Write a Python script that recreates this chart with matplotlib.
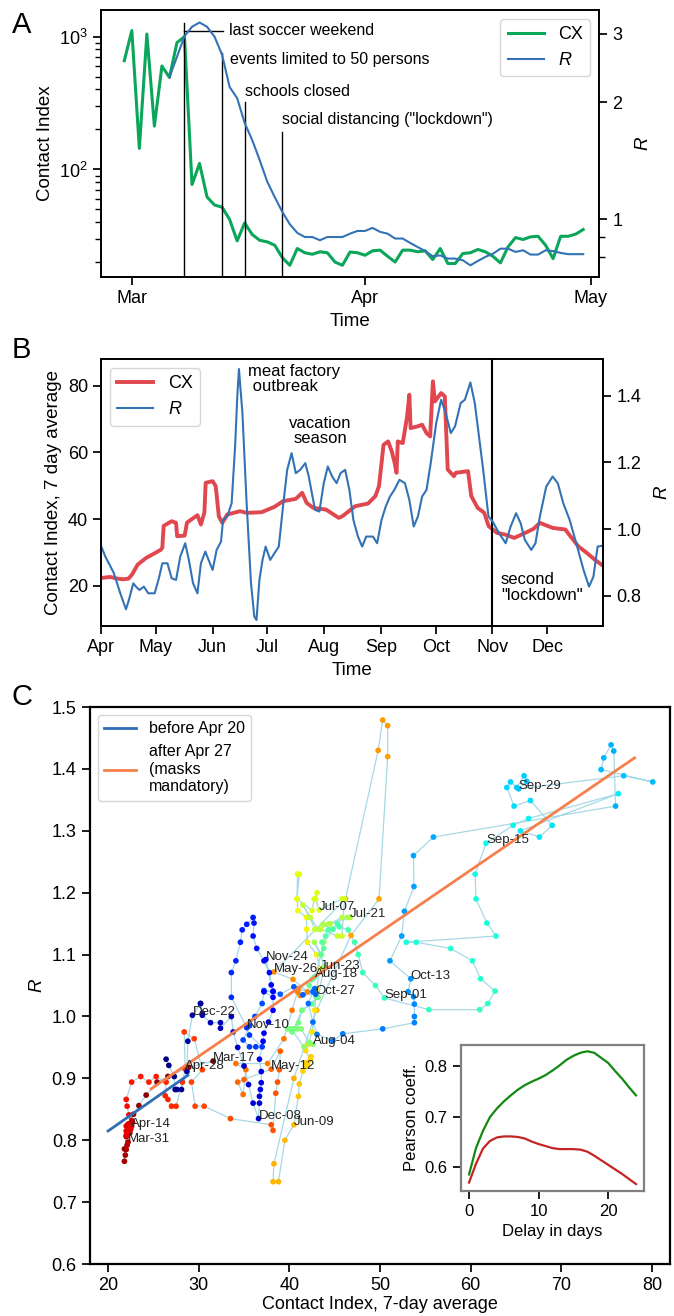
import numpy as np
import matplotlib.pyplot as plt
import matplotlib.dates as mdates
from matplotlib.ticker import NullFormatter, FixedLocator
from datetime import datetime, timedelta

plt.rcParams['font.family'] = ['Liberation Sans', 'DejaVu Sans']
plt.rcParams['mathtext.fontset'] = 'custom'
plt.rcParams['mathtext.rm'] = 'Liberation Sans'
plt.rcParams['mathtext.it'] = 'Liberation Sans:italic'
plt.rcParams['font.size'] = 12
plt.rcParams['axes.linewidth'] = 1.25
for ax_ in ('xtick', 'ytick'):
    plt.rcParams[ax_ + '.major.size'] = 6
    plt.rcParams[ax_ + '.major.width'] = 1.25
    plt.rcParams[ax_ + '.minor.size'] = 4
    plt.rcParams[ax_ + '.minor.width'] = 1
    plt.rcParams[ax_ + '.labelsize'] = 13

GREEN = '#0aa65a'
BLUE = '#3373b5'
RED = '#e0474f'

# ---- panel A: daily contact index (from Feb 29) and R (from Mar 6)
a_cx = [659, 1110, 144, 1047, 212, 601, 493, 901, 1000, 77, 111, 62, 54, 52, 42, 29,
        39.6, 32.4, 29.3, 28.5, 26.9, 21.7, 19.0, 25.4, 23.6, 23.0, 24.0, 23.6, 20.1,
        19.0, 23.9, 23.6, 22.6, 24.4, 24.7, 22.2, 20.1, 24.7, 24.7, 24.0, 24.4, 21.0,
        25.4, 19.6, 19.6, 23.3, 23.6, 25.0, 24.0, 22.2, 19.8, 26.1, 30.7, 29.7, 31.1,
        31.4, 26.9, 21.3, 31.4, 31.4, 32.6, 35.3]
a_r = [2.32, 2.62, 2.96, 3.13, 3.21, 3.13, 2.95, 2.65, 2.19, 2.05, 1.77, 1.60, 1.42,
       1.25, 1.14, 1.045, 0.971, 0.922, 0.90, 0.90, 0.883, 0.90, 0.90, 0.90, 0.918,
       0.933, 0.933, 0.95, 0.928, 0.918, 0.892, 0.892, 0.869, 0.848, 0.828, 0.803,
       0.807, 0.792, 0.792, 0.784, 0.761, 0.781, 0.80, 0.815, 0.84, 0.84, 0.824, 0.832,
       0.811, 0.811, 0.832, 0.828, 0.819, 0.813, 0.813, 0.813]
a_events = ['last soccer weekend', 'events limited to 50 persons', 'schools closed',
            'social distancing ("lockdown")']
a_event_dates = [datetime(2020, 3, 8), datetime(2020, 3, 13), datetime(2020, 3, 16),
                 datetime(2020, 3, 21)]

# ---- panel B: 7 day average contact index and R, days after Apr 1
b_cx_day = [0, 5, 9, 12, 15, 17, 20, 24.6, 29, 32.8, 33.5, 34.2, 38.6, 41, 41.6, 45.7,
            47, 52.7, 54.6, 56.5, 57.2, 61, 62.7, 64.4, 66.3, 69, 76, 79.6, 87.8, 94.8,
            99.5, 106.5, 110, 112.4, 116, 123, 130, 132, 139, 146, 150, 152, 153.4,
            154.5, 157, 159, 160.6, 161.6, 162.3, 165, 167.4, 168.6, 169.3, 173, 175.6,
            178, 180, 181.5, 182.6, 186, 188, 189.6, 193, 194, 200.7, 202.5, 206,
            209.6, 212, 216.6, 221, 226, 232, 236.5, 240, 247, 254, 256, 261, 265.7,
            270, 273.7]
b_cx = [22.4, 22.7, 22.2, 22.0, 22.2, 23.5, 26.4, 28.4, 29.7, 30.9, 31.5, 38.0, 39.4,
        38.9, 34.9, 35.1, 39.0, 41.2, 38.4, 42.0, 50.9, 51.4, 49.9, 40.9, 38.9, 41.4,
        42.4, 41.9, 42.1, 43.7, 45.4, 46.1, 47.9, 44.9, 43.4, 42.9, 40.4, 40.9, 43.9,
        44.7, 46.9, 49.9, 56.8, 62.3, 63.3, 60.3, 56.8, 53.9, 63.3, 62.8, 70.8, 77.3,
        67.3, 67.8, 68.3, 65.8, 64.8, 81.3, 75.3, 77.8, 76.8, 54.9, 52.9, 53.9, 54.4,
        46.9, 43.4, 41.9, 37.9, 35.9, 35.4, 34.4, 35.9, 37.1, 38.9, 37.4, 36.9, 35.4,
        31.9, 29.9, 27.9, 26.4]
b_r_day = [0, 2.3, 4.7, 7, 10.5, 13.6, 15.2, 17.6, 19.4, 21, 23.4, 25.8, 29.3, 31.6,
           33.5, 36.3, 38.6, 41, 43.3, 46, 48, 50.3, 52.7, 54.6, 57, 58.8, 61, 63.2,
           65.6, 66.7, 69, 71.4, 73.3, 74.5, 75.4, 77.3, 79.6, 82, 83.8, 85, 86.6, 88.3,
           90, 92.5, 94.8, 97.2, 99.5, 101.8, 104.2, 106.5, 108.9, 111.7, 113.6, 117,
           119.4, 121.8, 124, 126.4, 128.8, 131, 133.5, 135.8, 138, 140.5, 142.8, 145,
           148.7, 151, 153.4, 155.7, 158, 160.4, 163.2, 166.2, 168.6, 171, 173.3, 175.6,
           178, 180.3, 183.3, 186, 188.5, 191.3, 193.6, 196.7, 199, 202, 204.4, 206.7,
           209, 211.9, 214.2, 217.7, 221.3, 224, 227, 229.5, 231.8, 235.3, 237.6, 240,
           243.5, 247, 249.8, 252.8, 256.3, 259.9, 263.9, 266.9, 269.3, 271.6, 273.7]
b_r = [0.95, 0.918, 0.893, 0.868, 0.808, 0.76, 0.788, 0.838, 0.826, 0.818, 0.828, 0.808,
       0.808, 0.853, 0.898, 0.898, 0.853, 0.848, 0.918, 0.958, 0.908, 0.838, 0.808,
       0.898, 0.933, 0.908, 0.878, 0.938, 0.963, 1.028, 1.038, 1.078, 1.248, 1.398,
       1.48, 1.348, 1.078, 0.838, 0.738, 0.728, 0.848, 0.908, 0.948, 0.908, 0.928,
       0.948, 1.068, 1.178, 1.228, 1.168, 1.178, 1.198, 1.158, 1.058, 1.053, 1.138,
       1.188, 1.158, 1.138, 1.168, 1.178, 1.118, 1.028, 0.978, 0.948, 0.978, 0.978,
       0.958, 1.028, 1.068, 1.098, 1.118, 1.148, 1.138, 1.088, 1.008, 1.038, 1.098,
       1.118, 1.198, 1.318, 1.388, 1.348, 1.288, 1.308, 1.378, 1.388, 1.44, 1.378,
       1.278, 1.178, 1.038, 1.023, 0.988, 0.958, 1.008, 1.048, 1.018, 0.968, 0.938,
       0.958, 1.038, 1.128, 1.158, 1.138, 1.078, 1.028, 0.958, 0.878, 0.828, 0.858,
       0.948, 0.95]

# ---- panel C: daily trajectory from Mar 17 (CX 7-day average, delayed R)
c_cx = [31.6, 28.9, 26.6, 25.4, 24.2, 23.4, 22.8, 22.3, 22.0, 21.8, 21.8, 21.9, 22.0, 22.1,
        22.2, 22.4, 22.5, 22.6, 22.7, 22.6, 22.5, 22.4, 22.2, 22.0, 22.0, 22.0, 22.1, 22.2,
        22.5, 22.3, 22.1, 22.0, 22.6, 23.6, 24.5, 25.3, 26.4, 26.3, 26.6, 27.0, 27.5, 28.2,
        28.5, 28.4, 29.5, 30.4, 29.2, 29.6, 30.6, 33.5, 38.0, 38.2, 38.5, 38.7, 38.9, 39.0,
        38.0, 35.0, 34.3, 34.9, 35.2, 34.1, 37.6, 39.4, 40.3, 40.9, 41.2, 41.0, 42.0, 40.4,
        38.3, 46.2, 49.8, 50.3, 50.85, 50.85, 49.9, 46.8, 43.0, 40.5, 38.3, 38.2, 38.8, 39.5,
        40.5, 41.0, 41.1, 41.8, 42.4, 42.0, 41.5, 41.9, 42.3, 41.8, 42.1, 42.5, 42.8, 43.0,
        43.4, 43.0, 42.0, 41.9, 41.9, 40.95, 40.85, 40.9, 41.1, 40.85, 42.5, 42.75, 43.05, 42.9,
        43.3, 45.8, 46.1, 45.8, 45.3, 43.5, 42.8, 42.3, 41.5, 42.3, 43.2, 44.5, 45.8, 46.4,
        46.7, 44.3, 43.7, 44.8, 43.8, 43.5, 42.75, 43.5, 43.8, 43.2, 41.4, 40.5, 40.2, 41.6,
        42.6, 42.2, 41.3, 40.9, 40.5, 40.1, 39.8, 40.3, 41.0, 41.4, 42.5, 43.0, 42.2, 42.5,
        42.8, 43.5, 43.8, 43.6, 44.0, 44.3, 44.8, 45.3, 45.5, 46.5, 47.2, 47.6, 48.1, 49.5,
        50.5, 55.4, 61.0, 61.9, 62.7, 61.1, 60.2, 57.8, 54.0, 52.9, 62.8, 61.8, 60.6, 60.5,
        61.7, 64.7, 66.4, 76.3, 65.5, 67.6, 69.0, 66.6, 64.8, 64.0, 64.4, 65.1, 65.9, 66.2,
        65.3, 76.9, 80.1, 74.4, 74.7, 75.5, 75.8, 76.0, 55.9, 53.7, 53.75, 52.7, 52.4, 51.1,
        53.4, 53.1, 53.7, 53.8, 53.8, 53.8, 50.3, 45.9, 44.8, 43.05, 42.6, 42.1, 42.6, 42.8,
        42.9, 41.5, 40.5, 39.0, 38.2, 37.2, 37.0, 36.2, 35.6, 34.9, 35.6, 36.3, 37.0, 35.6,
        35.3, 33.6, 33.6, 34.1, 34.6, 34.8, 35.3, 36.0, 36.1, 36.0, 36.4, 37.2, 37.8, 38.0,
        37.4, 38.2, 37.2, 38.2, 38.2, 37.7, 37.2, 37.1, 36.7, 36.9, 36.9, 36.8, 36.7, 36.7,
        36.6, 36.0, 35.5, 35.0, 34.3, 33.8, 33.6, 32.4, 32.4, 31.3, 30.4, 30.2, 30.4, 30.2,
        29.3, 28.8, 28.7, 28.1, 27.6, 27.4, 27.3, 26.7, 26.4]
c_r = [0.928, 0.918, 0.903, 0.894, 0.873, 0.856, 0.842, 0.826, 0.806, 0.786, 0.766, 0.776, 0.785, 0.792,
       0.797, 0.812, 0.826, 0.832, 0.829, 0.823, 0.818, 0.822, 0.826, 0.823, 0.815, 0.808, 0.808, 0.812,
       0.821, 0.841, 0.855, 0.866, 0.894, 0.903, 0.894, 0.903, 0.894, 0.872, 0.866, 0.855, 0.855, 0.894,
       0.915, 0.975, 0.964, 0.914, 0.894, 0.855, 0.855, 0.835, 0.825, 0.816, 0.876, 0.894, 0.914, 0.944,
       0.915, 0.898, 0.894, 0.874, 0.914, 0.924, 0.924, 0.964, 1.010, 1.040, 1.034, 1.045, 1.040, 1.060,
       1.072, 1.190, 1.430, 1.479, 1.470, 1.420, 1.190, 1.131, 1.010, 0.900, 0.762, 0.733, 0.733, 0.800,
       0.825, 0.871, 0.891, 0.925, 0.935, 0.922, 0.912, 0.920, 0.930, 0.945, 0.955, 0.975, 1.010, 1.045,
       1.076, 1.100, 1.120, 1.141, 1.160, 1.171, 1.190, 1.230, 1.230, 1.190, 1.171, 1.190, 1.200, 1.190,
       1.172, 1.190, 1.190, 1.130, 1.130, 1.141, 1.141, 1.160, 1.180, 1.160, 1.141, 1.150, 1.160, 1.160,
       1.160, 1.149, 1.149, 1.141, 1.120, 1.100, 1.120, 1.100, 1.080, 1.031, 1.010, 0.980, 0.980, 0.951,
       0.955, 0.958, 0.980, 0.980, 0.980, 0.980, 0.980, 0.975, 0.990, 1.010, 1.020, 1.031, 1.050, 1.060,
       1.064, 1.100, 1.110, 1.120, 1.130, 1.140, 1.141, 1.150, 1.145, 1.140, 1.120, 1.100, 1.071, 1.050,
       1.030, 1.011, 1.011, 1.021, 1.041, 1.061, 1.090, 1.110, 1.120, 1.120, 1.130, 1.151, 1.190, 1.230,
       1.280, 1.309, 1.320, 1.360, 1.300, 1.290, 1.309, 1.349, 1.340, 1.370, 1.379, 1.370, 1.389, 1.380,
       1.368, 1.389, 1.379, 1.399, 1.418, 1.439, 1.429, 1.340, 1.290, 1.260, 1.210, 1.170, 1.130, 1.090,
       1.061, 1.040, 1.032, 1.020, 1.000, 0.990, 0.980, 0.972, 0.961, 0.971, 0.991, 1.021, 1.040, 1.045,
       1.036, 1.035, 1.048, 1.036, 1.040, 1.042, 1.021, 1.000, 0.985, 0.962, 0.951, 0.951, 0.951, 0.970,
       0.982, 1.031, 1.071, 1.090, 1.120, 1.140, 1.149, 1.160, 1.151, 1.130, 1.110, 1.090, 1.071, 1.051,
       1.092, 1.041, 1.040, 1.031, 1.010, 0.991, 0.973, 0.960, 0.931, 0.911, 0.893, 0.882, 0.871, 0.860,
       0.835, 0.860, 0.890, 0.920, 0.950, 0.975, 1.000, 0.981, 0.990, 0.990, 1.002, 1.021, 1.005, 1.021,
       1.002, 0.960, 0.911, 0.882, 0.882, 0.882, 0.903, 0.921, 0.931]
c_labels = ['Mar-17', 'Mar-31', 'Apr-14', 'Apr-28', 'May-12', 'May-26', 'Jun-09', 'Jun-23',
            'Jul-07', 'Jul-21', 'Aug-04', 'Aug-18', 'Sep-01', 'Sep-15', 'Sep-29', 'Oct-13',
            'Oct-27', 'Nov-10', 'Nov-24', 'Dec-08', 'Dec-22']
fit_before_x = [20.0, 28.8]
fit_before_r = [0.815, 0.905]
fit_after_x = [24.75, 78.1]
fit_after_r = [0.883, 1.418]

# inset: correlation vs delay
delay = list(range(25))
pearson_green = [0.586, 0.638, 0.672, 0.699, 0.716, 0.730, 0.742, 0.753, 0.762, 0.769, 0.775,
                 0.782, 0.791, 0.801, 0.812, 0.820, 0.826, 0.829, 0.826, 0.816, 0.806, 0.790,
                 0.775, 0.758, 0.742]
pearson_red = [0.570, 0.607, 0.637, 0.652, 0.659, 0.661, 0.661, 0.660, 0.657, 0.651, 0.646,
               0.642, 0.638, 0.636, 0.636, 0.636, 0.635, 0.631, 0.623, 0.614, 0.605, 0.596,
               0.587, 0.577, 0.567]

fig = plt.figure(figsize=(6.74, 13.16), dpi=100)

# ================= A
axA = fig.add_axes([0.150, 0.7895, 0.739, 0.203])
a_dates = [datetime(2020, 2, 29) + timedelta(days=k) for k in range(len(a_cx))]
a_r_dates = [datetime(2020, 3, 6) + timedelta(days=k) for k in range(len(a_r))]
l1, = axA.plot(a_dates, a_cx, color=GREEN, lw=2.2, label='CX')
axA.set_yscale('log')
axA.set_ylim(15.5, 1590)
axA.set_xlim(datetime(2020, 2, 25, 22), datetime(2020, 5, 2, 3))
axA.xaxis.set_major_locator(mdates.MonthLocator())
axA.xaxis.set_major_formatter(mdates.DateFormatter('%b'))
axA.set_ylabel('Contact Index', fontsize=13.5)
axA.set_xlabel('Time', fontsize=13.5)
trans = axA.get_xaxis_transform()
tops = [0.9525, 0.84, 0.654, 0.541]
text_x = [datetime(2020, 3, 13, 22), datetime(2020, 3, 14), datetime(2020, 3, 16), datetime(2020, 3, 21)]
text_y = [0.9225, 0.815, 0.694, 0.591]
for d, top, tx, ty, txt in zip(a_event_dates, tops, text_x, text_y, a_events):
    axA.plot([d, d], [0, top], color='k', lw=1, transform=trans)
    axA.text(tx, ty, txt, transform=trans, fontsize=11.5, va='center', ha='left')
axA.plot([a_event_dates[0], datetime(2020, 3, 13, 2)], [0.9225, 0.9225], color='k', lw=1,
         transform=trans)

axA2 = axA.twinx()
l2, = axA2.plot(a_r_dates, a_r, color=BLUE, lw=1.5, label='$R$')
axA2.set_yscale('log')
axA2.set_ylim(0.71, 3.46)
axA2.yaxis.set_major_locator(FixedLocator([1, 2, 3]))
axA2.set_yticklabels(['1', '2', '3'])
axA2.yaxis.set_minor_locator(FixedLocator([0.8, 0.9]))
axA2.yaxis.set_minor_formatter(NullFormatter())
axA2.set_ylabel('$R$', fontsize=13.5, labelpad=9)
axA2.legend([l1, l2], ['CX', '$R$'], loc='upper right', fontsize=13)

# ================= B
axB = fig.add_axes([0.150, 0.5243, 0.745, 0.2029])
b_start = datetime(2020, 4, 1)
b_cx_dates = [b_start + timedelta(days=d) for d in b_cx_day]
b_r_dates = [b_start + timedelta(days=d) for d in b_r_day]
l3, = axB.plot(b_cx_dates, b_cx, color=RED, lw=2.8, label='CX')
axB.set_ylim(8, 88)
axB.set_yticks([20, 40, 60, 80])
axB.set_xlim(b_start, datetime(2020, 12, 31, 16))
axB.xaxis.set_major_locator(mdates.MonthLocator())
axB.xaxis.set_major_formatter(mdates.DateFormatter('%b'))
axB.set_ylabel('Contact Index, 7 day average', fontsize=13.5)
axB.set_xlabel('Time', fontsize=13.5)
axB.axvline(datetime(2020, 11, 1), color='k', lw=1.5)
axB.text(datetime(2020, 6, 20, 8), 86.5, 'meat factory\n outbreak', fontsize=12, va='top', ha='left',
         linespacing=1.0)
axB.text(datetime(2020, 7, 30), 66.4, 'vacation\nseason', fontsize=12, va='center', ha='center',
         linespacing=1.05)
axB.text(datetime(2020, 11, 5, 16), 19.6, 'second\n"lockdown"', fontsize=12, va='center', ha='left',
         linespacing=1.05)
axB2 = axB.twinx()
l4, = axB2.plot(b_r_dates, b_r, color=BLUE, lw=1.5, label='$R$')
axB2.set_ylim(0.71, 1.51)
axB2.set_yticks([0.8, 1.0, 1.2, 1.4])
axB2.set_ylabel('$R$', fontsize=13.5, labelpad=9)
axB2.legend([l3, l4], ['CX', '$R$'], loc='upper left', fontsize=13)

# ================= C
axC = fig.add_axes([0.1335, 0.0395, 0.8605, 0.4232])
n = len(c_cx)
axC.plot(c_cx, c_r, color='#a6d9e6', lw=0.9, zorder=1)
axC.scatter(c_cx, c_r, c=np.arange(n), cmap='jet_r', s=17, linewidths=0, zorder=2)
axC.plot(fit_before_x, fit_before_r, color='#2f6db5', lw=2, zorder=3, label='before Apr 20')
axC.plot(fit_after_x, fit_after_r, color='#f5804c', lw=2, zorder=3,
         label='after Apr 27\n(masks\nmandatory)')
for k, name in enumerate(c_labels):
    i = 14 * k
    axC.annotate(name, (c_cx[i], c_r[i]), fontsize=9.5, color='#222222', zorder=4)
axC.set_xlim(18, 82)
axC.set_ylim(0.6, 1.5)
axC.set_xticks([20, 30, 40, 50, 60, 70, 80])
axC.set_yticks(np.round(np.arange(0.6, 1.51, 0.1), 1))
for s in axC.spines.values():
    s.set_linewidth(1.6)
axC.set_xlabel('Contact Index, 7-day average', fontsize=13, labelpad=1)
axC.set_ylabel('$R$', fontsize=13.5)
axC.legend(loc='upper left', fontsize=11.5)

axI = fig.add_axes([0.6835, 0.0952, 0.2725, 0.111])
axI.plot(delay, pearson_green, color='#128a12', lw=1.6)
axI.plot(delay, pearson_red, color='#c42424', lw=1.6)
axI.set_xticks([0, 10, 20])
axI.set_yticks([0.6, 0.7, 0.8])
axI.tick_params(labelsize=12)
for s in axI.spines.values():
    s.set_color('#808080')
    s.set_linewidth(1.6)
axI.set_xlabel('Delay in days', fontsize=12)
axI.set_ylabel('Pearson coeff.', fontsize=12)

fig.text(0.032, 0.981, 'A', fontsize=21, ha='center', va='center')
fig.text(0.032, 0.734, 'B', fontsize=21, ha='center', va='center')
fig.text(0.032, 0.470, 'C', fontsize=21, ha='center', va='center')

fig.savefig('out.png', dpi=100)
